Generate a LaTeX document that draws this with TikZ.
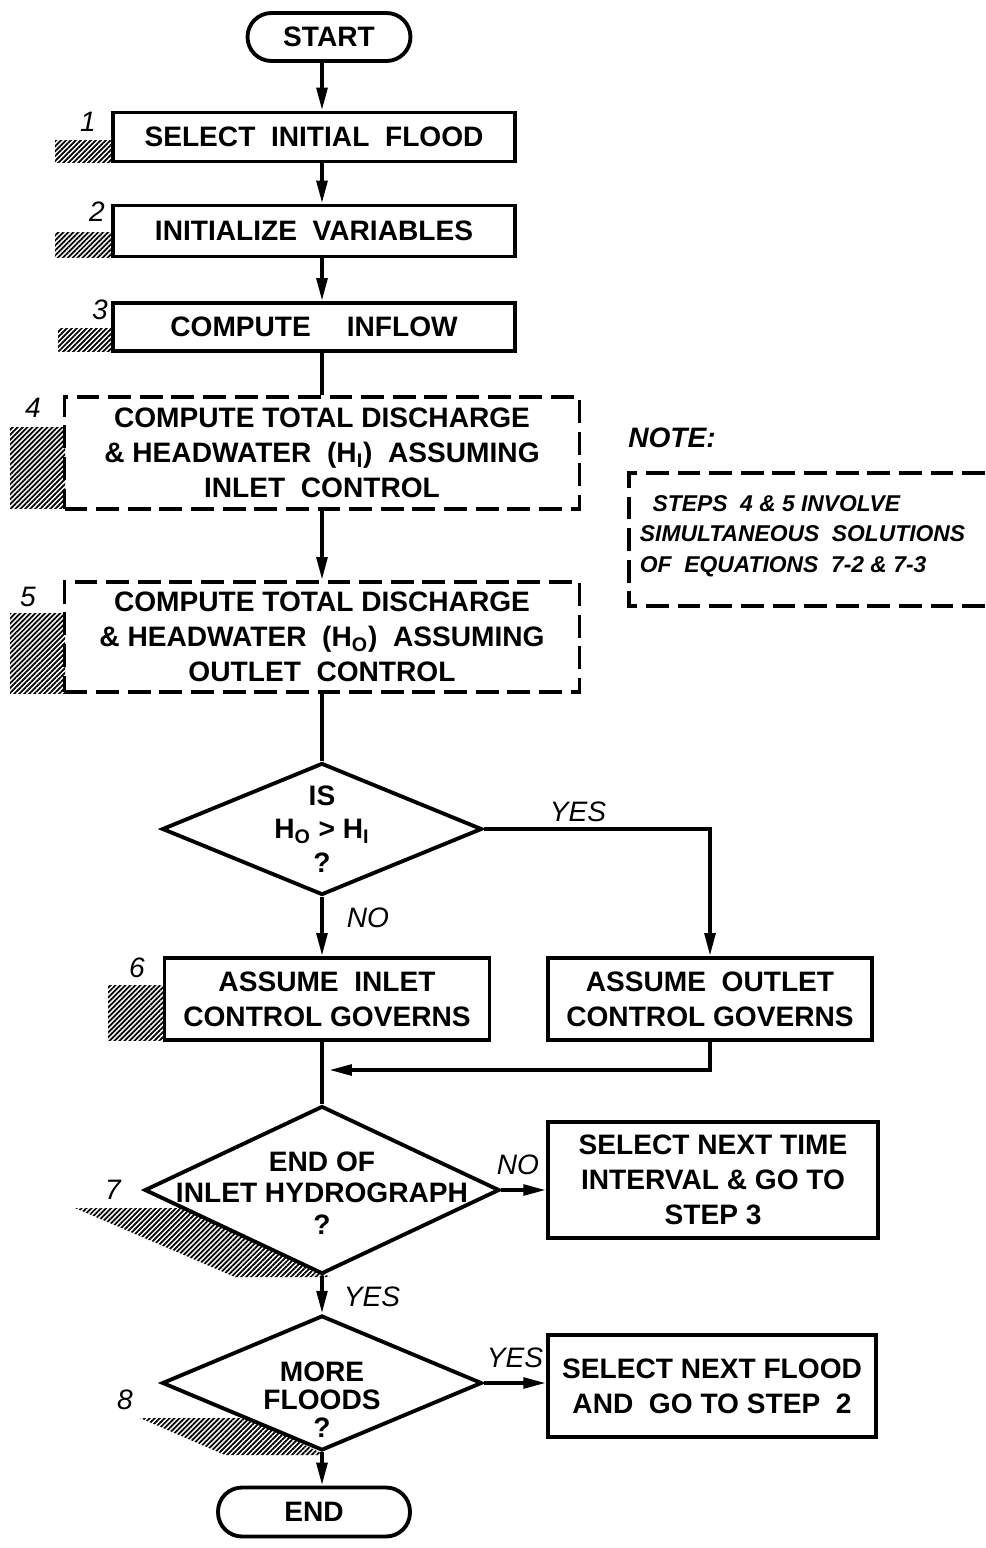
\documentclass[tikz,border=0pt]{standalone}
\usepackage{fontspec}
\setmainfont{Liberation Sans}
\usetikzlibrary{arrows.meta, shapes.geometric, patterns.meta}

\begin{document}
\begin{tikzpicture}[x=0.02cm, y=-0.02cm, line width=2.2pt,
every node/.style={align=center, inner sep=0pt, font=\bfseries\fontsize{16}{20}\selectfont},
proc/.style={draw, rectangle, line width=2.2pt},
dproc/.style={draw, rectangle, line width=2.2pt, dash pattern=on 13pt off 5pt},
term/.style={draw, rectangle, rounded corners=0.48cm, line width=2.2pt},
dec/.style={draw, diamond, fill=white, line width=2.2pt},
lbl/.style={font=\itshape\fontsize{16}{18}\selectfont},
shade/.style={pattern={Lines[angle=45, distance=2pt, line width=1pt]}, draw=none},
arr/.style={-{Triangle[length=13pt,width=6pt]}}]
\useasboundingbox (0,0) rectangle (985,1548);
\coordinate (mx) at (322,0);
%================================================================
% Shading
% --------------------------------
\fill[shade] (55,140) rectangle (113,162);
\fill[shade] (55,232) rectangle (113,257);
\fill[shade] (58,328) rectangle (113,351);
\fill[shade] (10,427) rectangle (65,508);
\fill[shade] (10,613) rectangle (65,693);
\fill[shade] (108,985) rectangle (165,1040);
\fill[shade] (75,1208) -- (200,1208) -- (330,1277) -- (235,1277) -- cycle;
\fill[shade] (140,1418) -- (250,1418) -- (325,1455) -- (225,1455) -- cycle;

%================================================================
% Main column
% --------------------------------
\node[term, minimum width=3.26cm, minimum height=0.96cm] (start) at (329,37) {START};
\node[proc, minimum width=8.04cm, minimum height=0.98cm] (s1) at (314,137) {SELECT \ INITIAL \ FLOOD};
\node[proc, minimum width=8.04cm, minimum height=1.02cm] (s2) at (314,231) {INITIALIZE \ VARIABLES};
\node[proc, minimum width=8.04cm, minimum height=0.96cm] (s3) at (314,327) {COMPUTE \quad INFLOW};
\node[dproc, minimum width=10.3cm, minimum height=2.24cm] (s4) at (322,453)
  {COMPUTE TOTAL DISCHARGE\\\& HEADWATER \ (H\textsubscript{I}) \ ASSUMING\\INLET \ CONTROL};
\node[dproc, minimum width=10.3cm, minimum height=2.2cm] (s5) at (322,637)
  {COMPUTE TOTAL DISCHARGE\\\& HEADWATER \ (H\textsubscript{O}) \ ASSUMING\\OUTLET \ CONTROL};

% --------------------------------
% Decision H_O > H_I
\node[dec, minimum width=6.4cm, minimum height=2.64cm] (d1) at (322,829) {};
\node[font=\bfseries\fontsize{16}{19}\selectfont] (d1t) at (322,829) {IS\\H\textsubscript{O} > H\textsubscript{I}\\?};
\node[proc, minimum width=6.5cm, minimum height=1.64cm] (s6) at (327,999) {ASSUME \ INLET\\CONTROL GOVERNS};
\node[proc, minimum width=6.48cm, minimum height=1.64cm] (out) at (710,999) {ASSUME \ OUTLET\\CONTROL GOVERNS};
\coordinate (merge) at (329,1070);

% --------------------------------
% Decision end of hydrograph
\node[dec, minimum width=7.1cm, minimum height=3.36cm] (d2) at (322,1190) {};
\node[font=\bfseries\fontsize{16}{18}\selectfont] (d2t) at (322,1193) {END OF\\INLET HYDROGRAPH\\?};
\node[proc, minimum width=6.6cm, minimum height=2.32cm] (nxt) at (713,1180)
  {SELECT NEXT TIME\\INTERVAL \& GO TO\\STEP 3};

% --------------------------------
% Decision more floods
\node[dec, minimum width=6.4cm, minimum height=2.7cm] (d3) at (322,1383) {};
\node[font=\bfseries\fontsize{16}{16}\selectfont] (d3t) at (322,1400) {MORE\\FLOODS\\?};
\node[proc, minimum width=6.56cm, minimum height=2.04cm] (fld) at (712,1386)
  {SELECT NEXT FLOOD\\AND \ GO TO STEP \ 2};
\node[term, minimum width=3.84cm, minimum height=0.98cm] (end) at (314,1512) {END};

%================================================================
% Connectors
\draw[arr] (start.south -| mx) -- (s1.north -| mx);
\draw[arr] (s1.south -| mx) -- (s2.north -| mx);
\draw[arr] (s2.south -| mx) -- (s3.north -| mx);
\draw (s3.south -| mx) -- (s4.north -| mx);
\draw[arr] (s4.south -| mx) -- (s5.north -| mx);
\draw (s5.south -| mx) -- (d1.north);
\draw[arr] (d1.south) -- (s6.north -| d1.south);
\draw[arr] (d1.east) -| (out.north);
\draw (s6.south -| mx) -- (d2.north);
\draw[arr] (out.south) |- (merge);
\draw[arr] (d2.east) -- (nxt.west |- d2.east);
\draw[arr] (d2.south) -- (d3.north);
\draw[arr] (d3.east) -- (fld.west |- d3.east);
\draw[arr] (d3.south) -- (end.north -| d3.south);

%================================================================
% Labels
\node[lbl] (yes1) at (578,812) {YES};
\node[lbl] (no1) at (368,918) {NO};
\node[lbl] (no2) at (518,1165) {NO};
\node[lbl] (yes2) at (372,1297) {YES};
\node[lbl] (yes3) at (515,1358) {YES};
\node[lbl] (n1) at (88,122) {1};
\node[lbl] (n2) at (97,212) {2};
\node[lbl] (n3) at (100,310) {3};
\node[lbl] (n4) at (33,408) {4};
\node[lbl] (n5) at (28,597) {5};
\node[lbl] (n6) at (137,968) {6};
\node[lbl] (n7) at (113,1190) {7};
\node[lbl] (n8) at (125,1400) {8};

%================================================================
% Note
\node[lbl, font=\bfseries\itshape\fontsize{16}{18}\selectfont] (note) at (672,438) {NOTE:};
\draw[dash pattern=on 13pt off 5pt] (985,473) -- (629,473) -- (629,606) -- (985,606);
\node[lbl, font=\bfseries\itshape\fontsize{13}{17.5}\selectfont, align=left, anchor=west] (notet) at (638,536)
  {\ \ STEPS \ 4 \& 5 INVOLVE\\SIMULTANEOUS \ SOLUTIONS\\OF \ EQUATIONS \ 7-2 \& 7-3};

%================================================================
\end{tikzpicture}
\end{document}
